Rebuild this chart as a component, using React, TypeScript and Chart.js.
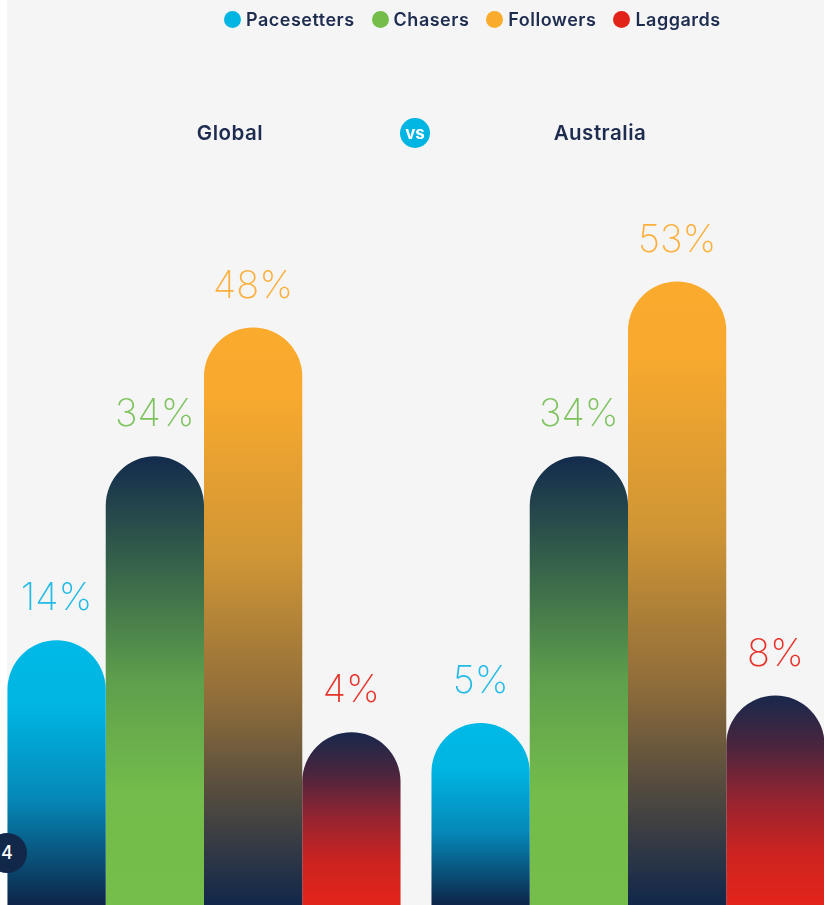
import React, { useEffect, useRef } from "react";
import { Chart, registerables } from "chart.js";

Chart.register(...registerables);

const CATEGORIES = ["Global", "Australia"];
const SERIES = ["Pacesetters", "Chasers", "Followers", "Laggards"];
const PACESETTERS = [14, 5];
const CHASERS = [34, 34];
const FOLLOWERS = [48, 53];
const LAGGARDS = [4, 8];
const SERIES_VALUES = [PACESETTERS, CHASERS, FOLLOWERS, LAGGARDS];
const SERIES_COLORS = ["#00b5e2", "#74bd4b", "#fbab2c", "#e2231a"];
const LABEL_COLORS = ["#22bbe6", "#7dc35f", "#fbb03e", "#e5332a"];
const GRADIENT_STOPS: [number, string][][] = [
  [[0, "#00b9e6"], [0.25, "#00b5e2"], [0.6, "#0588b8"], [1, "#0d2548"]],
  [[0, "#132b4d"], [0.25, "#37644a"], [0.5, "#5e9f4c"], [0.75, "#74bc4b"], [1, "#75be4b"]],
  [[0, "#faab2d"], [0.12, "#f8a92e"], [0.4, "#cf9535"], [0.65, "#8e6c3a"], [0.82, "#50493f"], [1, "#11274b"]],
  [[0, "#18284c"], [0.25, "#4d253d"], [0.5, "#962430"], [0.75, "#cc2320"], [1, "#e3241a"]],
];
const Y_MIN = -14.77;
const Y_MAX = 83.6;

const NAVY = "#1d2c4f";
const UI_FONT = "Inter, 'Noto Sans', sans-serif";

const valueLabels = {
  id: "valueLabels",
  afterDatasetsDraw(chart: any) {
    const ctx = chart.ctx;
    ctx.save();
    ctx.font = `200 38px Inter, 'Noto Sans', sans-serif`;
    ctx.textAlign = "center";
    ctx.textBaseline = "alphabetic";
    chart.data.datasets.forEach((ds: any, di: number) => {
      const meta = chart.getDatasetMeta(di);
      meta.data.forEach((bar: any, i: number) => {
        ctx.fillStyle = LABEL_COLORS[di];
        ctx.fillText(`${ds.data[i]}%`, bar.x, bar.y - 30);
      });
    });
    ctx.restore();
  },
};

export default function App() {
  const canvasRef = useRef<HTMLCanvasElement | null>(null);

  useEffect(() => {
    if (!canvasRef.current) return;
    const chart = new Chart(canvasRef.current, {
      type: "bar",
      data: {
        labels: CATEGORIES,
        datasets: SERIES.map((name, si) => ({
          label: name,
          data: SERIES_VALUES[si],
          base: Y_MIN,
          backgroundColor: (c: any) => {
            const ch = c.chart;
            if (!ch.chartArea || c.type !== "data") return SERIES_COLORS[si];
            const y = ch.scales.y;
            const top = y.getPixelForValue(c.raw);
            const bottom = y.getPixelForValue(Y_MIN);
            const g = ch.ctx.createLinearGradient(0, top, 0, bottom);
            GRADIENT_STOPS[si].forEach(([o, col]) => g.addColorStop(o, col));
            return g;
          },
          borderWidth: 0,
          borderSkipped: "start",
          borderRadius: { topLeft: 100, topRight: 100, bottomLeft: 0, bottomRight: 0 },
          categoryPercentage: 0.927,
          barPercentage: 1,
        })),
      },
      options: {
        animation: false,
        responsive: false,
        maintainAspectRatio: false,
        layout: { padding: 0 },
        plugins: {
          legend: { display: false },
          tooltip: { enabled: false },
          title: { display: false },
        },
        scales: {
          x: { display: false, grid: { display: false } },
          y: { display: false, min: Y_MIN, max: Y_MAX, grid: { display: false } },
        },
      },
      plugins: [valueLabels],
    });
    return () => chart.destroy();
  }, []);

  const titleStyle: React.CSSProperties = {
    position: "absolute",
    width: 200,
    top: 120,
    textAlign: "center",
    fontSize: 20.5,
    fontWeight: 600,
    letterSpacing: 0.5,
    color: NAVY,
    lineHeight: "26px",
  };

  return (
    <div
      style={{
        position: "absolute",
        left: 0,
        top: 0,
        width: 824,
        height: 905,
        overflow: "hidden",
        background: "#ffffff",
        fontFamily: UI_FONT,
      }}
    >
      <div
        style={{
          position: "absolute",
          left: 7,
          top: 0,
          width: 817,
          height: 905,
          background: "#f5f5f5",
        }}
      />
      <canvas
        ref={canvasRef}
        width={848}
        height={905}
        style={{ position: "absolute", left: -8, top: 0, width: 848, height: 905 }}
      />
      <div
        style={{
          position: "absolute",
          left: 224,
          top: 9,
          height: 20,
          display: "flex",
          alignItems: "center",
          gap: 17,
          whiteSpace: "nowrap",
        }}
      >
        {SERIES.map((name, i) => (
          <div key={name} style={{ display: "flex", alignItems: "center", gap: 5 }}>
            <span
              style={{
                width: 17,
                height: 17,
                borderRadius: "50%",
                background: SERIES_COLORS[i],
                display: "inline-block",
              }}
            />
            <span style={{ fontSize: 18, fontWeight: 600, letterSpacing: 0.5, color: NAVY }}>
              {name}
            </span>
          </div>
        ))}
      </div>
      <div style={{ ...titleStyle, left: 130 }}>{CATEGORIES[0]}</div>
      <div
        style={{
          position: "absolute",
          left: 400,
          top: 118,
          width: 30,
          height: 30,
          borderRadius: "50%",
          background: "#00b5e2",
          color: "#ffffff",
          fontSize: 17,
          fontWeight: 700,
          display: "flex",
          alignItems: "center",
          justifyContent: "center",
          lineHeight: 1,
        }}
      >
        vs
      </div>
      <div style={{ ...titleStyle, left: 500 }}>{CATEGORIES[1]}</div>
      <div
        style={{
          position: "absolute",
          left: -13,
          top: 833,
          width: 40,
          height: 40,
          borderRadius: "50%",
          background: "#12284b",
          color: "#ffffff",
          fontSize: 18,
          fontWeight: 500,
          display: "flex",
          alignItems: "center",
          justifyContent: "center",
          lineHeight: 1,
        }}
      >
        4
      </div>
    </div>
  );
}
